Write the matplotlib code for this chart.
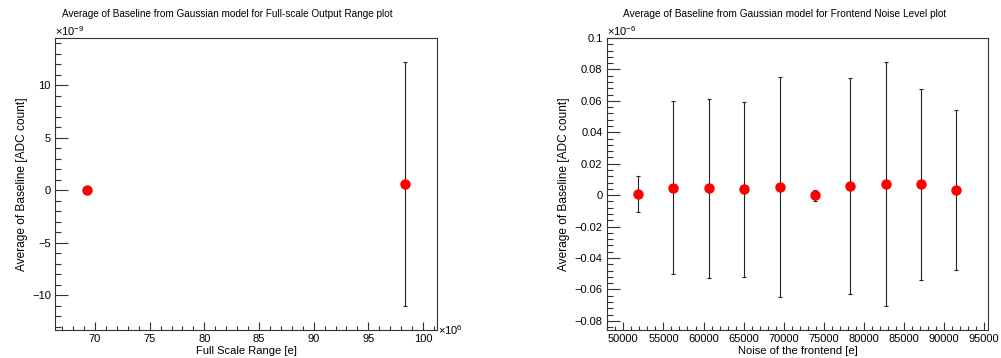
import matplotlib
matplotlib.use("Agg")
import matplotlib.pyplot as plt
from matplotlib.ticker import MultipleLocator, FuncFormatter

plt.rcParams['font.family'] = ['Liberation Sans', 'DejaVu Sans']
plt.rcParams['mathtext.fontset'] = 'custom'
plt.rcParams['mathtext.rm'] = 'Liberation Sans'

# ---- data: left panel (Full-scale Output Range) ----
fsr_x = [69.3e6, 98.35e6]
fsr_y = [0.0, 0.6e-9]
fsr_err = [0.05e-9, 11.6e-9]

# ---- data: right panel (Frontend Noise Level) ----
noise_x = [51870, 56230, 60650, 65050, 69500, 73860, 78270, 82720, 87120, 91480]
noise_y = [0.0006e-6, 0.0048e-6, 0.0045e-6, 0.0037e-6, 0.0049e-6, -0.0002e-6,
           0.0057e-6, 0.0071e-6, 0.0068e-6, 0.0032e-6]
noise_err = [0.0116e-6, 0.0552e-6, 0.0570e-6, 0.0558e-6, 0.0700e-6, 0.0034e-6,
             0.0689e-6, 0.0775e-6, 0.0610e-6, 0.0507e-6]

titles = ["Average of Baseline from Gaussian model for Full-scale Output Range plot",
          "Average of Baseline from Gaussian model for Frontend Noise Level plot"]
xlabels = ["Full Scale Range [e]", "Noise of the frontend [e]"]
ylabel = "Average of Baseline [ADC count]"

W, H = 1001, 358
fig = plt.figure(figsize=(W / 100, H / 100), dpi=100)

def frac(x0, x1, ytop, ybot):
    return [x0 / W, 1 - ybot / H, (x1 - x0) / W, (ybot - ytop) / H]

axL = fig.add_axes(frac(55, 437, 38, 330))
axR = fig.add_axes(frac(606.7, 988.3, 38, 330))

def fmt(v, pos):
    v = round(v, 6)
    if abs(v) < 1e-12:
        return "0"
    return f"{v:g}".replace("-", "\u2212")

def style(ax, xmaj, xmin, ymaj, ymin):
    ax.xaxis.set_major_locator(MultipleLocator(xmaj))
    ax.xaxis.set_minor_locator(MultipleLocator(xmin))
    ax.yaxis.set_major_locator(MultipleLocator(ymaj))
    ax.yaxis.set_minor_locator(MultipleLocator(ymin))
    ax.xaxis.set_major_formatter(FuncFormatter(fmt))
    ax.yaxis.set_major_formatter(FuncFormatter(fmt))
    ax.tick_params(axis='both', which='both', direction='in', top=False, right=False,
                   labelsize=8, width=0.8, color='#333333')
    ax.tick_params(axis='x', which='major', length=6, pad=3)
    ax.tick_params(axis='x', which='minor', length=3)
    ax.tick_params(axis='y', which='major', length=9, pad=3)
    ax.tick_params(axis='y', which='minor', length=4.5)
    for s in ax.spines.values():
        s.set_linewidth(0.8)
        s.set_color('#333333')

# left panel, plotted in display units (x in 1e6, y in 1e-9)
lx = [v / 1e6 for v in fsr_x]
ly = [v / 1e-9 for v in fsr_y]
le = [v / 1e-9 for v in fsr_err]
axL.errorbar(lx, ly, yerr=le, fmt='o', color='red', markersize=6.5,
             ecolor='#222222', elinewidth=0.8, capsize=1.2, capthick=0.8, zorder=3)
axL.set_xlim(66.34, 101.28)
axL.set_ylim(-13.3, 14.5)
style(axL, 5, 1, 5, 1)
axL.text(0.0, 1.0, r"$\times10^{-9}$", transform=axL.transAxes, fontsize=8,
         ha='left', va='bottom')
axL.text(1.003, 0.0, r"$\times10^{6}$", transform=axL.transAxes, fontsize=8,
         ha='left', va='center')

# right panel (y in 1e-6)
ry = [v / 1e-6 for v in noise_y]
re_ = [v / 1e-6 for v in noise_err]
axR.errorbar(noise_x, ry, yerr=re_, fmt='o', color='red', markersize=6.5,
             ecolor='#222222', elinewidth=0.8, capsize=1.2, capthick=0.8, zorder=3)
axR.set_xlim(47930, 95500)
axR.set_ylim(-0.0858, 0.1)
style(axR, 5000, 1000, 0.02, 0.004)
axR.text(0.0, 1.0, r"$\times10^{-6}$", transform=axR.transAxes, fontsize=8,
         ha='left', va='bottom')

for ax, t, xl in zip([axL, axR], titles, xlabels):
    ax.set_xlabel(xl, fontsize=8, labelpad=1)
    ax.set_ylabel(ylabel, fontsize=8.6, labelpad=3)

fig.text(227 / W, 1 - 14 / H, titles[0], fontsize=7.2, ha='center', va='center')
fig.text(785 / W, 1 - 14 / H, titles[1], fontsize=7.3, ha='center', va='center')

fig.savefig("out.png", dpi=100)
